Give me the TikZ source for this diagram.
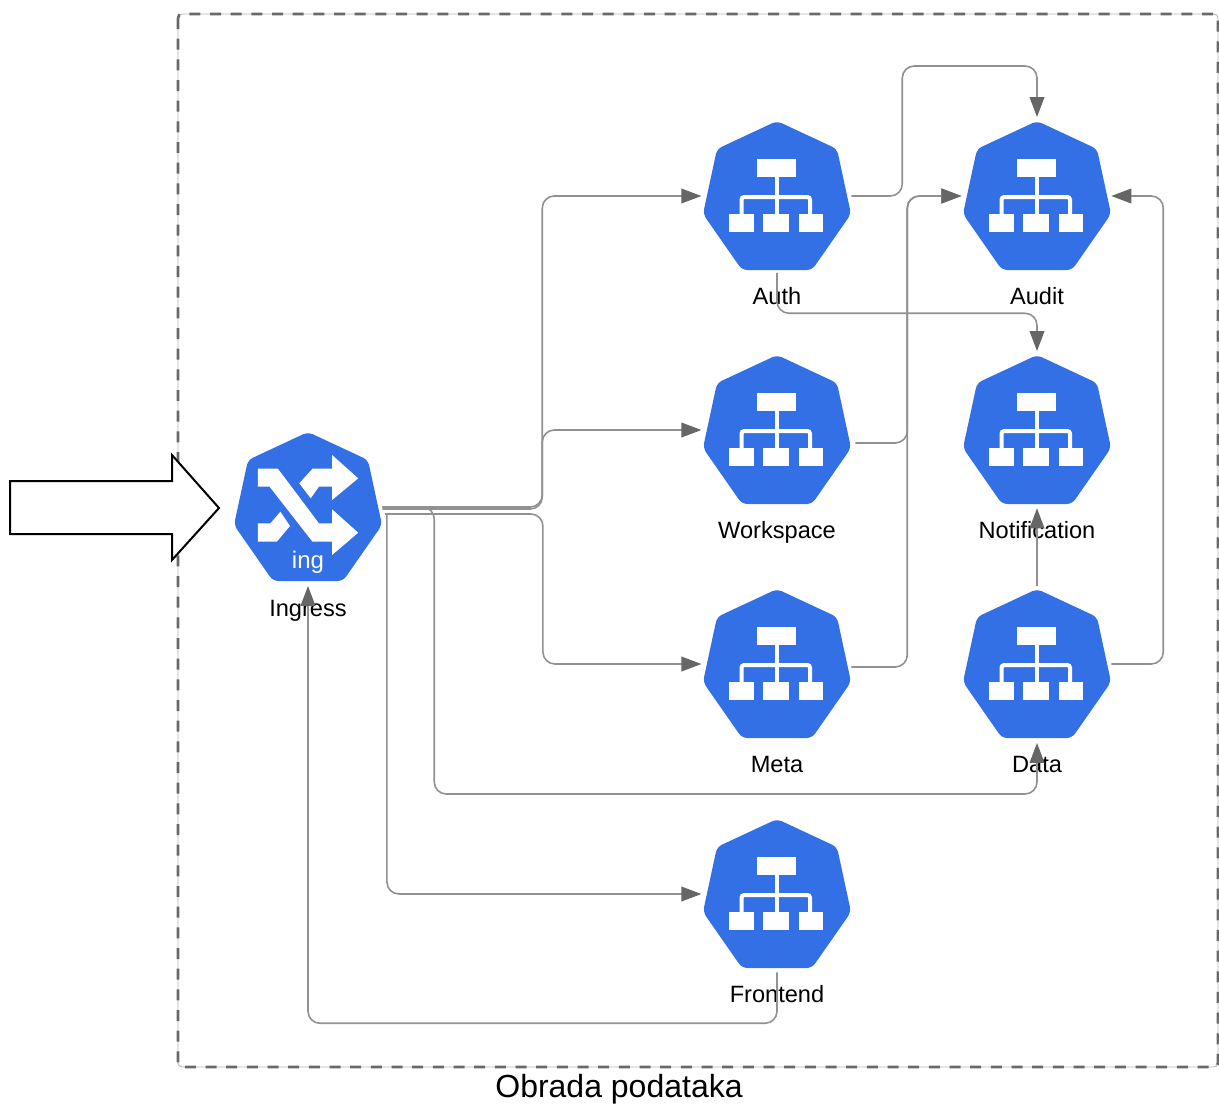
\documentclass[tikz,border=0pt]{standalone}
\usepackage{fontspec}
\setmainfont{Liberation Sans}
\usetikzlibrary{positioning,arrows.meta}

\definecolor{svcblue}{RGB}{51,112,229}
\definecolor{conngray}{RGB}{145,145,145}
\definecolor{tipgray}{RGB}{102,102,102}
\definecolor{framegray}{RGB}{105,105,105}

\tikzset{
    svc/.style={rectangle, minimum size=111pt, inner sep=0pt},
    svctext/.style={font=\fontsize{17.7}{20}\selectfont, inner sep=0pt, text height=13pt, text depth=4pt, below=12.5pt of #1},
    conn/.style={draw=conngray, line width=1.2pt, rounded corners=9pt, shorten >=1pt, -{Triangle[length=15pt, width=11pt, color=tipgray]}},
    pics/hepta/.style={code={
        \fill[svcblue, rounded corners=4pt] (0,-75) -- (60,-47) -- (74,18) -- (35,74) -- (-35,74) -- (-74,18) -- (-60,-47) -- cycle;
    }},
    pics/svcicon/.style={code={
        \pic {hepta};
        \fill[white] (-19.7,-36.7) rectangle (19,-18.7);
        \fill[white] (-47.7,17.7) rectangle (-22.7,36);
        \fill[white] (-13.7,17.7) rectangle (12.3,36);
        \fill[white] (21.7,17.7) rectangle (46.3,36);
        \draw[white, line width=3pt] (0,-19) -- (0,18);
        \draw[white, line width=3pt, rounded corners=2pt] (-35.5,18) -- (-35.5,1) -- (33,1) -- (33,18);
    }}
}

\begin{document}
\begin{tikzpicture}[x=0.75pt, y=-0.75pt]
    \useasboundingbox (0,0) rectangle (1219,1104);

    % Frame and title
    \draw[framegray!50, line width=0.7pt, rounded corners=3pt] (178,25) -- (178,14) -- (1218,14) -- (1218,1067) -- (178,1067) -- cycle;
    \draw[framegray, line width=2.1pt, rounded corners=3pt, dash pattern=on 8.25pt off 7.25pt] (178,14) rectangle (1218,1067);
    \node[font=\fontsize{24}{28}\selectfont, inner sep=0pt] (title) at (619,1089) {Obrada podataka};

    % Nodes
    \node[svc] (ingress) at (308,507) {};
    \node[svc] (auth) at (777,196) {};
    \node[svc] (audit) at (1037,196) {};
    \node[svc] (workspace) at (777,430) {};
    \node[svc] (notification) at (1037,430) {};
    \node[svc] (meta) at (777,664) {};
    \node[svc] (data) at (1037,664) {};
    \node[svc] (frontend) at (777,894) {};

    % Icons
    \pic at (ingress) {hepta};
    \pic at (auth) {svcicon};
    \pic at (audit) {svcicon};
    \pic at (workspace) {svcicon};
    \pic at (notification) {svcicon};
    \pic at (meta) {svcicon};
    \pic at (data) {svcicon};
    \pic at (frontend) {svcicon};

    % Ingress icon
    \fill[white] (257.9,468.7) -- (277.9,468.7) -- (318.9,523.3) -- (332.1,523.3) -- (332.1,509.3) -- (358.2,532.7) -- (332.1,555) -- (332.1,541.7) -- (312.5,541.7) -- (269.6,486.7) -- (257.9,486.7) -- cycle;
    \fill[white] (299.3,483.3) -- (312.5,468.7) -- (332.1,468.7) -- (332.1,455) -- (358.2,478.3) -- (332.1,500) -- (332.1,486.7) -- (318.9,486.7) -- (310.7,498.3) -- cycle;
    \fill[white] (257.9,523.3) -- (270.4,523.3) -- (280.4,511.7) -- (290,526) -- (276.8,541.7) -- (257.9,541.7) -- cycle;
    \node[font=\fontsize{18}{20}\selectfont, text=white, inner sep=0pt] (ingicon) at (308,562) {ing};

    % Labels
    \node[svctext=ingress, yshift=-1pt] (ingresstext) {Ingress};
    \node[svctext=auth] (authtext) {Auth};
    \node[svctext=audit] (audittext) {Audit};
    \node[svctext=workspace] (workspacetext) {Workspace};
    \node[svctext=notification] (notificationtext) {Notification};
    \node[svctext=meta] (metatext) {Meta};
    \node[svctext=data] (datatext) {Data};
    \node[svctext=frontend] (frontendtext) {Frontend};

    % Entry arrow
    \draw[black, line width=1.5pt, fill=white, miter limit=10] (10,481) -- (172,481) -- (172,455) -- (219,508) -- (172,560) -- (172,534) -- (10,534) -- cycle;

    % Edges from ingress
    \draw[conn] (ingress.east) -- ++(160,0) |- (auth.west);
    \draw[conn] ([yshift=-1.5pt]ingress.east) -- ++(160,0) |- (workspace.west);
    \draw[conn] ([xshift=2pt,yshift=-5.25pt]ingress.east) -- ++(158,0) |- (meta.west);
    \draw[conn, shorten >=3.5pt] (ingress.east) -- ++(52,0) -- ++(0,287) -| (data.south);
    \draw[conn] ([xshift=3.5pt,yshift=-5.25pt]ingress.east) |- (frontend.west);

    % Edges back to ingress
    \draw[conn, shorten <=3pt, shorten >=3.5pt] (frontend.south) -- ++(0,55) -| (ingress.south);

    % Edges between services
    \draw[conn, shorten >=3.5pt] (auth.east) -- ++(51,0) -- ++(0,-130) -| (audit.north);
    \draw[conn, shorten <=2pt, shorten >=3.5pt] (auth.south) -- ++(0,43) -| (notification.north);
    \draw[conn, shorten <=3pt] ([yshift=-9.75pt]workspace.east) -- ++(56,0) |- (audit.west);
    \draw[conn] ([yshift=-2.25pt]meta.east) -- ++(56,0) |- (audit.west);
    \draw[conn, shorten >=0pt] (data.east) -- ++(52,0) |- (audit.east);
    \draw[conn, shorten <=3pt, shorten >=3pt] (data.north) -- (notification.south);
\end{tikzpicture}
\end{document}
